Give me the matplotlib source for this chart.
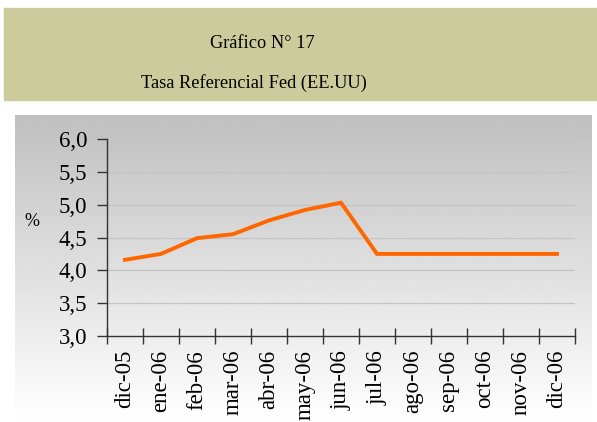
import matplotlib
matplotlib.use('Agg')
import matplotlib.pyplot as plt
import numpy as np
from matplotlib.patches import Rectangle
from matplotlib.ticker import FuncFormatter

# datos
meses = ['dic-05', 'ene-06', 'feb-06', 'mar-06', 'abr-06', 'may-06', 'jun-06',
         'jul-06', 'ago-06', 'sep-06', 'oct-06', 'nov-06', 'dic-06']
tasa = [4.16, 4.25, 4.49, 4.55, 4.76, 4.92, 5.03,
        4.25, 4.25, 4.25, 4.25, 4.25, 4.25]

plt.rcParams['font.family'] = ['Liberation Serif', 'DejaVu Serif']

W, H = 597, 422
fig = plt.figure(figsize=(W / 100, H / 100), dpi=100)

# banda del titulo
fig.patches.append(Rectangle((4 / W, 1 - 100 / H), 1 - 4 / W, 92 / H,
                             transform=fig.transFigure, color='#CCCB9B', zorder=0))
fig.text(262 / W, 1 - 43 / H, 'Gráfico N° 17', ha='center', va='center', fontsize=13.2)
fig.text(254 / W, 1 - 83 / H, 'Tasa Referencial Fed (EE.UU)', ha='center', va='center', fontsize=13.2)

# fondo degradado del area del grafico
bg = fig.add_axes([15 / W, 0, 577 / W, (H - 115) / H], zorder=0)
grad = np.linspace(0.75, 1.0, 256).reshape(-1, 1)
bg.imshow(grad, aspect='auto', cmap='gray', vmin=0, vmax=1, extent=[0, 1, 1, 0])
bg.set_axis_off()

ax = fig.add_axes([107 / W, 1 - 336 / H, (575 - 107) / W, (336 - 139) / H], zorder=1)
ax.patch.set_alpha(0)
x = np.arange(len(meses)) + 0.5
ax.plot(x, tasa, color='#FF6600', linewidth=2.8, solid_joinstyle='miter', zorder=3)

ax.set_xlim(0, len(meses))
ax.set_ylim(3, 6)
ax.set_yticks(np.arange(3.0, 6.01, 0.5))
ax.yaxis.set_major_formatter(FuncFormatter(lambda v, p: f'{v:.1f}'.replace('.', ',')))
for yv in np.arange(3.5, 6.01, 0.5):
    ax.axhline(yv, color='#C4C4C4', linewidth=0.9, zorder=1)

ax.set_xticks(np.arange(0, len(meses) + 1))
ax.set_xticklabels([])
ax.set_xticks(x, minor=True)
ax.set_xticklabels(meses, minor=True, rotation=90, fontsize=16.5)
ax.tick_params(axis='x', which='major', direction='inout', length=12, width=1, color='#333333')
ax.tick_params(axis='x', which='minor', length=0, pad=10)
ax.tick_params(axis='y', direction='out', length=7, width=1, color='#333333', labelsize=16.5, pad=7)

for s in ['top', 'right']:
    ax.spines[s].set_visible(False)
for s in ['left', 'bottom']:
    ax.spines[s].set_color('#333333')
    ax.spines[s].set_linewidth(1)

fig.text(32 / W, 1 - 222 / H, '%', ha='center', va='center', fontsize=13)

fig.savefig('out.png', dpi=100)
